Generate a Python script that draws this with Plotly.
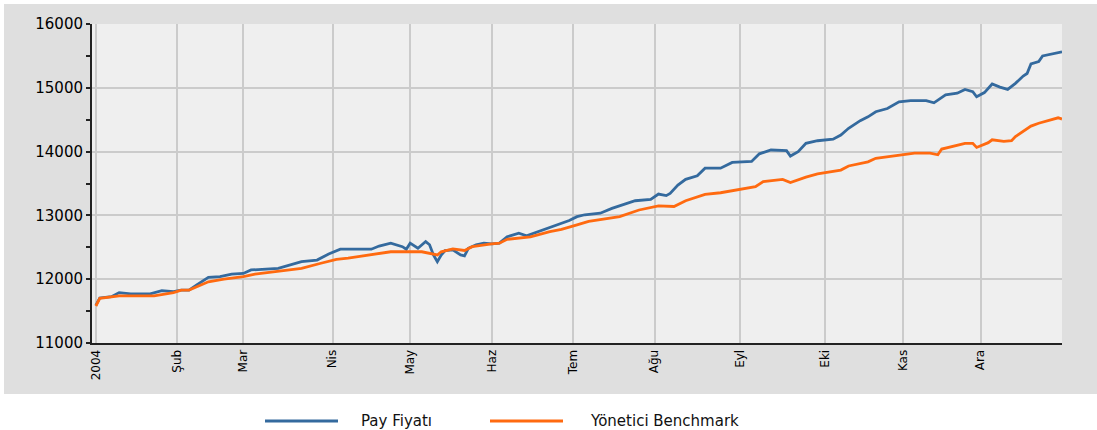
import plotly.graph_objects as go

# ---- data (x = trading-day index within 2004) ----
pay_x = [0, 1, 4, 6, 9, 14, 17, 20, 22, 24, 26, 29, 32, 35, 38, 40, 47, 50, 53, 57, 60, 63,
         71, 73, 76, 79, 80, 81, 83, 85, 86, 87, 88, 89, 90, 92, 94, 95, 96, 98, 100, 102,
         104, 106, 109, 111, 114, 117, 120, 122, 124, 126, 130, 133, 139, 143, 145, 147, 148,
         150, 152, 155, 157, 161, 164, 169, 171, 174, 178, 179, 181, 183, 186, 188, 190, 192,
         194, 197, 199, 201, 204, 207, 210, 214, 216, 219, 222, 224, 226, 227, 229, 231, 233,
         235, 237, 239, 240, 241, 243, 244, 247, 249]
pay_y = [11590, 11706, 11727, 11790, 11770, 11770, 11820, 11805, 11830, 11830, 11910, 12030,
         12040, 12080, 12090, 12145, 12170, 12225, 12275, 12300, 12395, 12470,
         12470, 12520, 12565, 12510, 12470, 12565, 12485, 12590, 12540, 12380, 12275, 12380,
         12450, 12460, 12380, 12365, 12485, 12540, 12565, 12555,
         12565, 12665, 12720, 12680, 12745, 12800, 12875, 12920, 12980, 13010, 13035, 13110,
         13230, 13250, 13335, 13310, 13345,
         13475, 13565, 13620, 13740, 13740, 13830, 13845, 13965, 14025, 14015, 13930, 14000,
         14130, 14170, 14185, 14195, 14260,
         14365, 14485, 14545, 14625, 14675, 14780, 14800, 14800, 14765, 14890, 14915, 14975,
         14940, 14860, 14925, 15060, 15010,
         14975, 15070, 15185, 15225, 15375, 15410, 15500, 15540, 15565]

bench_x = [0, 1, 6, 15, 20, 22, 24, 27, 29, 33, 38, 41, 47, 53, 58, 62, 65, 73, 76, 84, 87,
           88, 89, 92, 95, 97, 102, 104, 106, 112, 117, 120, 124, 127, 135, 140, 145, 149,
           152, 157, 161, 166, 170, 172, 177, 179, 183, 186, 188, 192, 194, 199, 201, 206,
           211, 215, 217, 218, 221, 224, 226, 227, 230, 231, 234, 236, 237, 239, 241, 243,
           245, 248, 249]
bench_y = [11580, 11700, 11740, 11740, 11790, 11830, 11830, 11910, 11960, 12000, 12040, 12080,
           12120, 12170, 12250, 12310, 12330, 12395, 12430, 12430, 12395,
           12380, 12430, 12475, 12450, 12510, 12555, 12565, 12625, 12665, 12745, 12780, 12850,
           12905, 12980, 13085, 13150, 13140,
           13230, 13330, 13355, 13410, 13450, 13530, 13565, 13515, 13600, 13650, 13670, 13710,
           13775, 13840, 13895, 13935,
           13975, 13975, 13950, 14040, 14080, 14130, 14130, 14065, 14140, 14185, 14160, 14170,
           14235, 14315, 14400, 14445,
           14480, 14530, 14510]

month_pos = [0, 21, 38, 61, 81, 102, 123, 144, 166, 188, 208, 228]
month_labels = ["2004", "Şub", "Mar", "Nis", "May", "Haz", "Tem", "Ağu", "Eyl", "Eki", "Kas", "Ara"]

y_ticks = [11000, 12000, 13000, 14000, 15000, 16000]
y_labels = ["11000", "12000", "13000", "14000", "15000", "16000"]

series_names = ["Pay Fiyatı", "Yönetici Benchmark"]
series_colors = ["#346a9e", "#ff6a10"]

fig = go.Figure()
fig.add_trace(go.Scatter(x=pay_x, y=pay_y, mode="lines", name=series_names[0],
                         line=dict(color=series_colors[0], width=2.8), showlegend=False))
fig.add_trace(go.Scatter(x=bench_x, y=bench_y, mode="lines", name=series_names[1],
                         line=dict(color=series_colors[1], width=2.8), showlegend=False))

L, R, T, B = 92, 35, 24, 87
W, H = 1097, 430
pw, ph = W - L - R, H - T - B

def fx(px):
    return (px - L) / pw

def fy(py):
    return (H - B - py) / ph

shapes = [
    dict(type="rect", xref="paper", yref="paper", x0=fx(4), x1=fx(1097), y0=fy(394), y1=fy(4),
         fillcolor="#dfdfdf", line=dict(width=0), layer="below"),
    dict(type="rect", xref="paper", yref="paper", x0=0, x1=1, y0=0, y1=1,
         fillcolor="#efefef", line=dict(width=0), layer="below"),
    dict(type="line", xref="paper", yref="paper", x0=fx(265), x1=fx(338), y0=fy(421), y1=fy(421),
         line=dict(color=series_colors[0], width=2.8)),
    dict(type="line", xref="paper", yref="paper", x0=fx(490), x1=fx(563), y0=fy(421), y1=fy(421),
         line=dict(color=series_colors[1], width=2.8)),
]
annotations = [
    dict(xref="paper", yref="paper", x=fx(359), y=fy(421), text=series_names[0], showarrow=False,
         xanchor="left", yanchor="middle", font=dict(family="DejaVu Sans", size=15, color="#111")),
    dict(xref="paper", yref="paper", x=fx(588), y=fy(421), text=series_names[1], showarrow=False,
         xanchor="left", yanchor="middle", font=dict(family="DejaVu Sans", size=15, color="#111")),
]

fig.update_layout(
    width=W, height=H,
    margin=dict(l=L, r=R, t=T, b=B),
    paper_bgcolor="white",
    plot_bgcolor="#efefef",
    shapes=shapes,
    annotations=annotations,
    showlegend=False,
)
fig.update_xaxes(
    range=[-1, 249], tickmode="array", tickvals=month_pos, ticktext=month_labels,
    tickangle=-90, tickfont=dict(family="DejaVu Sans", size=12, color="#000"),
    showgrid=True, gridcolor="#cbcbcb", gridwidth=2,
    showline=True, linecolor="#222", linewidth=2, ticks="", zeroline=False,
)
fig.update_yaxes(
    range=[11000, 16000], tickmode="array", tickvals=y_ticks, ticktext=y_labels,
    tickfont=dict(family="DejaVu Sans", size=15, color="#000"),
    showgrid=True, gridcolor="#cbcbcb", gridwidth=2,
    showline=True, linecolor="#222", linewidth=2,
    ticks="outside", ticklen=4, tickcolor="#222", tickwidth=2,
    minor=dict(tickvals=[11500, 12500, 13500, 14500, 15500], ticks="outside", ticklen=4,
               tickcolor="#222", tickwidth=2, showgrid=False),
    zeroline=False,
)

fig.write_html("out.html", config={"displayModeBar": False},
               post_script="document.body.style.margin='0';document.body.style.overflow='hidden';")
